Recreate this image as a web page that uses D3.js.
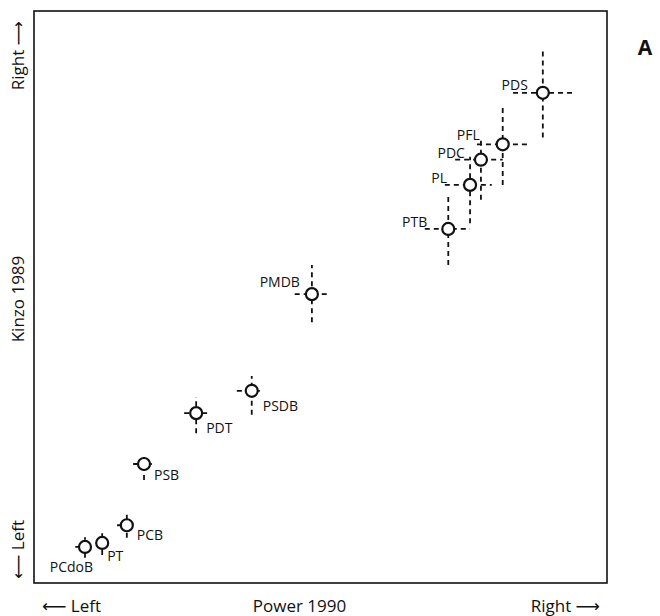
<!DOCTYPE html>
<html>
<head>
<meta charset="utf-8">
<script src="https://cdn.jsdelivr.net/npm/d3@7"></script>
<style>
body { margin: 0; background: #fff; }
text { font-family: "Open Sans", "DejaVu Sans", sans-serif; fill: #111; }
</style>
</head>
<body>
<svg id="chart" width="660" height="616"></svg>
<script>
// party positions, 0 = left, 100 = right
var parties = ["PDS", "PFL", "PDC", "PL", "PTB", "PMDB", "PSDB", "PDT", "PSB", "PCB", "PT", "PCdoB"];
var power = [88.8, 81.8, 78.0, 76.1, 72.3, 48.5, 38.0, 28.3, 19.2, 16.2, 11.9, 8.9];
var powerLo = [83.6, 77.3, 73.5, 71.7, 68.2, 45.5, 35.4, 26.2, 17.3, 14.5, 10.8, 7.2];
var powerHi = [93.9, 86.6, 81.8, 79.9, 76.1, 51.7, 39.6, 30.5, 20.6, 17.3, 12.6, 10.1];
var kinzo = [85.7, 76.7, 74.0, 69.6, 61.9, 50.5, 33.6, 29.7, 20.8, 10.1, 7.0, 6.3];
var kinzoLo = [77.9, 69.6, 67.0, 62.9, 55.6, 45.6, 29.4, 26.2, 18.0, 7.9, 4.9, 4.4];
var kinzoHi = [93.5, 83.6, 77.8, 74.5, 67.8, 55.6, 36.2, 32.5, 22.4, 12.2, 8.7, 8.0];

// where the names sit, relative to the circle
var labelPos = {
	"PDS": [-15, -3, "end"], "PFL": [-23, -4, "end"], "PDC": [-16, -2, "end"],
	"PL": [-23, -2, "end"], "PTB": [-21, -2, "end"], "PMDB": [-12, -7, "end"],
	"PSDB": [11, 20, "start"], "PDT": [10, 20, "start"], "PSB": [10, 16, "start"],
	"PCB": [10, 15, "start"], "PT": [5, 18, "start"], "PCdoB": [8, 25, "end"]
};

var svg = d3.select("#chart");
var pLeft = 34, pTop = 11, pRight = 607, pBottom = 583;

var x = d3.scaleLinear().domain([0, 100]).range([pLeft, pRight]);
var y = d3.scaleLinear().domain([0, 100]).range([pBottom, pTop]);

// frame
svg.append("rect")
	.attr("x", pLeft).attr("y", pTop)
	.attr("width", pRight - pLeft).attr("height", pBottom - pTop)
	.attr("fill", "none").attr("stroke", "#111").attr("stroke-width", 1.6);

var data = parties.map(function(p, i){
	return {name: p, x: power[i], xl: powerLo[i], xh: powerHi[i], y: kinzo[i], yl: kinzoLo[i], yh: kinzoHi[i]};
});

var pts = svg.append("g").selectAll("g").data(data).enter().append("g");

pts.append("line")
	.attr("x1", function(d){ return x(d.xl); })
	.attr("x2", function(d){ return x(d.xh); })
	.attr("y1", function(d){ return y(d.y); })
	.attr("y2", function(d){ return y(d.y); });
pts.append("line")
	.attr("x1", function(d){ return x(d.x); })
	.attr("x2", function(d){ return x(d.x); })
	.attr("y1", function(d){ return y(d.yl); })
	.attr("y2", function(d){ return y(d.yh); });
pts.selectAll("line")
	.attr("stroke", "#111").attr("stroke-width", 1.8).attr("stroke-dasharray", "5,4");

pts.append("circle")
	.attr("cx", function(d){ return x(d.x); })
	.attr("cy", function(d){ return y(d.y); })
	.attr("r", 6)
	.attr("fill", "#fff").attr("stroke", "#111").attr("stroke-width", 2.2);

pts.append("text")
	.attr("x", function(d){ return x(d.x) + labelPos[d.name][0]; })
	.attr("y", function(d){ return y(d.y) + labelPos[d.name][1]; })
	.attr("text-anchor", function(d){ return labelPos[d.name][2]; })
	.attr("font-size", 14)
	.text(function(d){ return d.name; });

// axis titles
var ax = svg.append("g");
ax.append("text").attr("x", 42).attr("y", 612).attr("font-size", 17).text("\u27F5 Left");
ax.append("text").attr("x", (pLeft + pRight) / 2 - 21).attr("y", 612).attr("text-anchor", "middle").attr("font-size", 17).text("Power 1990");
ax.append("text").attr("x", 600).attr("y", 612).attr("text-anchor", "end").attr("font-size", 17).text("Right \u27F6");

ax.append("text").attr("transform", "translate(24,21) rotate(-90)").attr("text-anchor", "end").attr("font-size", 17).text("Right \u27F6");
ax.append("text").attr("transform", "translate(24,299) rotate(-90)").attr("text-anchor", "middle").attr("font-size", 17).text("Kinzo 1989");
ax.append("text").attr("transform", "translate(24,579) rotate(-90)").attr("text-anchor", "start").attr("font-size", 17).text("\u27F5 Left");

svg.append("text").attr("x", 645).attr("y", 55).attr("text-anchor", "middle")
	.attr("font-size", 21).attr("font-weight", "bold").text("A");
</script>
</body>
</html>
